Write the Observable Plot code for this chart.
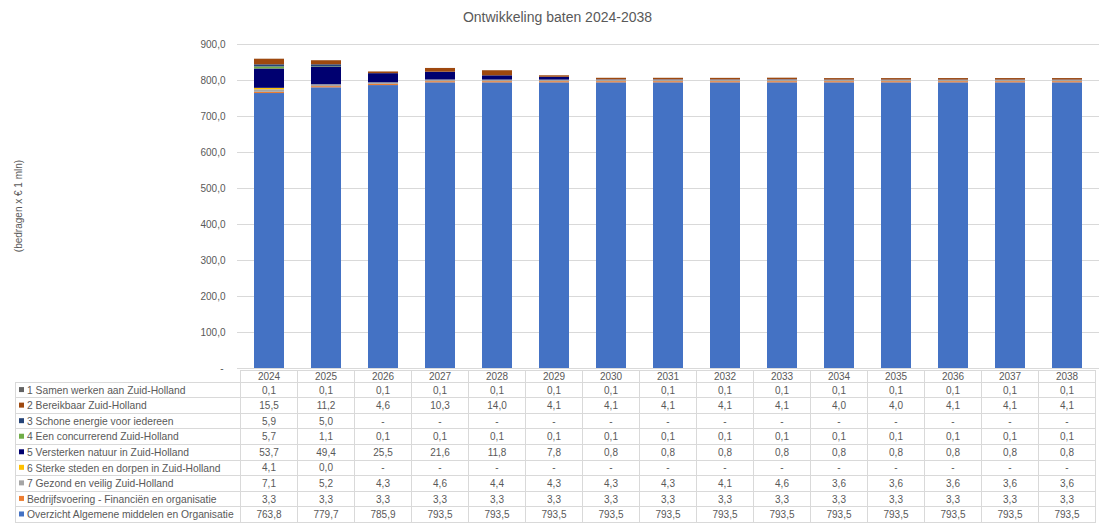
<!DOCTYPE html>
<html>
<head>
<meta charset="utf-8">
<script src="https://cdn.jsdelivr.net/npm/d3@7"></script>
<script src="https://cdn.jsdelivr.net/npm/@observablehq/plot@0.6"></script>
<style>
  body { margin: 0; background: #fff; font-family: "Liberation Sans", Arial, sans-serif; color: #595959; }
  #wrap { position: relative; width: 1105px; height: 523px; overflow: hidden; }
  #chart, #table { position: absolute; left: 0; top: 0; }
  #title { position: absolute; top: 9px; left: 0; width: 1115px; text-align: center; font-size: 14px; line-height: 16px; }
  #ylab { position: absolute; left: 18px; top: 206px; transform: translate(-50%, -50%) rotate(-90deg); font-size: 10px; white-space: nowrap; }
</style>
</head>
<body>
<div id="wrap">
  <div id="chart"></div>
  <svg id="table" width="1105" height="523"></svg>
  <div id="title">Ontwikkeling baten 2024-2038</div>
  <div id="ylab">(bedragen x € 1 mln)</div>
</div>
<script>
// Years (columns) and y-axis ticks
const years = ["2024", "2025", "2026", "2027", "2028", "2029", "2030", "2031", "2032", "2033", "2034", "2035", "2036", "2037", "2038"];
const yTicks = [0, 100, 200, 300, 400, 500, 600, 700, 800, 900];

// Programme names, in table order (top row first)
const programmes = [
  "1 Samen werken aan Zuid-Holland",
  "2 Bereikbaar Zuid-Holland",
  "3 Schone energie voor iedereen",
  "4 Een concurrerend Zuid-Holland",
  "5 Versterken natuur in Zuid-Holland",
  "6 Sterke steden en dorpen in Zuid-Holland",
  "7 Gezond en veilig Zuid-Holland",
  "Bedrijfsvoering - Financiën en organisatie",
  "Overzicht Algemene middelen en Organisatie"
];
const programmeColors = ["#636363", "#9E480E", "#264478", "#70AD47", "#000070", "#FFC000", "#A5A5A5", "#ED7D31", "#4472C4"];

// Baten per programme (€ mln); null = "-"
const samenWerken     = [0.1, 0.1, 0.1, 0.1, 0.1, 0.1, 0.1, 0.1, 0.1, 0.1, 0.1, 0.1, 0.1, 0.1, 0.1];
const bereikbaar      = [15.5, 11.2, 4.6, 10.3, 14.0, 4.1, 4.1, 4.1, 4.1, 4.1, 4.0, 4.0, 4.1, 4.1, 4.1];
const schoneEnergie   = [5.9, 5.0, null, null, null, null, null, null, null, null, null, null, null, null, null];
const concurrerend    = [5.7, 1.1, 0.1, 0.1, 0.1, 0.1, 0.1, 0.1, 0.1, 0.1, 0.1, 0.1, 0.1, 0.1, 0.1];
const natuur          = [53.7, 49.4, 25.5, 21.6, 11.8, 7.8, 0.8, 0.8, 0.8, 0.8, 0.8, 0.8, 0.8, 0.8, 0.8];
const sterkeSteden    = [4.1, 0.0, null, null, null, null, null, null, null, null, null, null, null, null, null];
const gezondVeilig    = [7.1, 5.2, 4.3, 4.6, 4.4, 4.3, 4.3, 4.3, 4.1, 4.6, 3.6, 3.6, 3.6, 3.6, 3.6];
const bedrijfsvoering = [3.3, 3.3, 3.3, 3.3, 3.3, 3.3, 3.3, 3.3, 3.3, 3.3, 3.3, 3.3, 3.3, 3.3, 3.3];
const overzicht       = [763.8, 779.7, 785.9, 793.5, 793.5, 793.5, 793.5, 793.5, 793.5, 793.5, 793.5, 793.5, 793.5, 793.5, 793.5];

const seriesValues = [samenWerken, bereikbaar, schoneEnergie, concurrerend, natuur, sterkeSteden, gezondVeilig, bedrijfsvoering, overzicht];

// Long-format rows, bottom of the stack first
const rows = [];
for (let s = programmes.length - 1; s >= 0; s--) {
  seriesValues[s].forEach((v, i) => {
    if (v != null) rows.push({year: years[i], programme: programmes[s], value: v});
  });
}

const fmt = v => v == null ? "-" : v.toFixed(1).replace(".", ",");
const tickFmt = v => v === 0 ? "-\u2009" : fmt(v);
const textColor = "#595959";
const lineColor = "#d9d9d9";

const chart = Plot.plot({
  width: 1105,
  height: 380,
  marginLeft: 237,
  marginRight: 6,
  marginTop: 44,
  marginBottom: 12,
  style: {fontFamily: "Liberation Sans, Arial, sans-serif", background: "transparent", overflow: "visible"},
  x: {domain: years, paddingInner: 0.48, paddingOuter: 0.24, axis: null},
  y: {domain: [0, 900]},
  color: {domain: programmes, range: programmeColors},
  marks: [
    Plot.gridY(yTicks, {stroke: lineColor, strokeOpacity: 1}),
    Plot.barY(rows, {x: "year", y: "value", fill: "programme"}),
    Plot.axisY(yTicks, {tickSize: 0, tickPadding: 12, tickFormat: tickFmt, fontSize: 10, fill: textColor, label: null})
  ]
});
document.getElementById("chart").appendChild(chart);

// Data table below the bars, aligned to the x scale columns
const xs = chart.scale("x");
const step = xs.step;
const colLeft = y => xs.apply(y) - (step - xs.bandwidth) / 2;
const tableRight = colLeft(years[years.length - 1]) + step;
const firstCol = colLeft(years[0]);
const legendLeft = 15;
const headerTop = 370, headerBottom = 382.3, rowH = 15.55;
const tableBottom = headerBottom + rowH * programmes.length;

const svg = d3.select("#table")
  .style("font-family", "Liberation Sans, Arial, sans-serif")
  .style("font-size", "10px");

const lines = svg.append("g").attr("stroke", lineColor).attr("shape-rendering", "crispEdges");
// header top border
lines.append("line").attr("x1", firstCol).attr("x2", tableRight).attr("y1", headerTop).attr("y2", headerTop);
// row borders
for (let r = 0; r <= programmes.length; r++) {
  const y = headerBottom + r * rowH;
  lines.append("line").attr("x1", legendLeft).attr("x2", tableRight).attr("y1", y).attr("y2", y);
}
// column borders
lines.append("line").attr("x1", legendLeft).attr("x2", legendLeft).attr("y1", headerBottom).attr("y2", tableBottom);
years.forEach(y => {
  const x = colLeft(y);
  lines.append("line").attr("x1", x).attr("x2", x).attr("y1", headerTop).attr("y2", tableBottom);
});
lines.append("line").attr("x1", tableRight).attr("x2", tableRight).attr("y1", headerTop).attr("y2", tableBottom);

// header years
svg.append("g").attr("fill", textColor).attr("text-anchor", "middle")
  .selectAll("text").data(years).join("text")
  .attr("x", y => colLeft(y) + step / 2)
  .attr("y", (headerTop + headerBottom) / 2)
  .attr("dy", "0.36em")
  .text(y => y);

// legend cells and values
programmes.forEach((name, r) => {
  const cy = headerBottom + r * rowH + rowH / 2;
  svg.append("rect").attr("x", 19).attr("y", cy - 3).attr("width", 5).attr("height", 5).attr("fill", programmeColors[r]);
  svg.append("text").attr("x", 27).attr("y", cy).attr("dy", "0.36em").attr("fill", textColor)
    .style("font-size", "10.3px").text(name);
  svg.append("g").attr("fill", textColor).attr("text-anchor", "middle")
    .selectAll("text").data(seriesValues[r]).join("text")
    .attr("x", (v, i) => colLeft(years[i]) + step / 2)
    .attr("y", cy)
    .attr("dy", "0.36em")
    .text(v => fmt(v));
});
</script>
</body>
</html>
